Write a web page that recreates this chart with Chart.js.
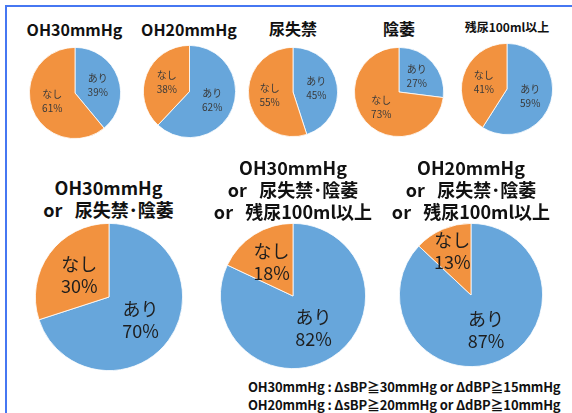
<!DOCTYPE html>
<html>
<head>
<meta charset="utf-8">
<script src="https://cdn.jsdelivr.net/npm/chart.js@4"></script>
<style>
  html, body { margin: 0; padding: 0; background: #fff; }
  #page {
    position: relative; width: 572px; height: 413px; overflow: hidden;
    font-family: "Noto Sans CJK JP", "Noto Sans", sans-serif; color: #111;
  }
  #frame {
    position: absolute; left: 5px; top: 5px; width: 600px; height: 500px;
    border-top: 2px solid #4677f2; border-left: 2px solid #4677f2;
  }
  .pie { position: absolute; }
  .title {
    position: absolute; width: 220px; text-align: center; font-weight: bold;
    white-space: pre;
  }
  .small-title { font-size: 16px; line-height: 20px; }
  .big-title { font-size: 18px; line-height: 22px; }
  #note {
    position: absolute; left: 248px; top: 378px; font-size: 13px; line-height: 18px;
    font-weight: bold; white-space: pre; letter-spacing: -0.15px;
  }
</style>
</head>
<body>
<div id="page">
  <div id="frame"></div>
  <div id="note">OH30mmHg : ΔsBP≧30mmHg or ΔdBP≧15mmHg
OH20mmHg : ΔsBP≧20mmHg or ΔdBP≧10mmHg</div>
</div>
<script>
// categories and values (%)
const categories = ['あり', 'なし'];

const smallTitles = ['OH30mmHg', 'OH20mmHg', '尿失禁', '陰萎', '残尿100ml以上'];
const smallAri = [39, 62, 45, 27, 59];
const smallNashi = [61, 38, 55, 73, 41];

const bigTitles = [
  ['OH30mmHg', 'or   尿失禁･陰萎'],
  ['OH30mmHg', 'or   尿失禁･陰萎', 'or   残尿100ml以上'],
  ['OH20mmHg', 'or   尿失禁･陰萎', 'or   残尿100ml以上']
];
const bigAri = [70, 82, 87];
const bigNashi = [30, 18, 13];

// layout: centre x, centre y, radius, title line y
const smallLayout = [
  { cx: 74.5, cy: 93, r: 46, ty: 29, fs: 16 },
  { cx: 189, cy: 91, r: 46.5, ty: 29, fs: 16 },
  { cx: 293, cy: 92, r: 45, ty: 28, fs: 16 },
  { cx: 399, cy: 92, r: 45, ty: 28, fs: 16 },
  { cx: 507, cy: 89, r: 46, ty: 27, fs: 12 }
];
const bigLayout = [
  { cx: 108.5, cy: 297, r: 74, ty: 187, dist: [0.53, 0.5] },
  { cx: 293, cy: 296, r: 73, ty: 167, dist: [0.53, 0.55] },
  { cx: 471, cy: 295, r: 72, ty: 167, dist: [0.53, 0.66] }
];

const BLUE = '#67a6db';
const ORANGE = '#f2923f';

// writes "label / value%" inside each slice
const sliceLabels = {
  id: 'sliceLabels',
  afterDatasetsDraw(chart, args, opts) {
    const ctx = chart.ctx;
    const meta = chart.getDatasetMeta(0);
    const values = chart.data.datasets[0].data;
    ctx.save();
    ctx.font = opts.size + 'px "Noto Sans CJK JP", sans-serif';
    ctx.fillStyle = opts.color;
    ctx.textAlign = 'center';
    ctx.textBaseline = 'middle';
    meta.data.forEach((arc, i) => {
      const p = arc.getProps(['x', 'y', 'startAngle', 'endAngle', 'outerRadius'], true);
      const mid = (p.startAngle + p.endAngle) / 2;
      const d = p.outerRadius * (opts.dist ? opts.dist[i] : 0.53);
      const x = p.x + Math.cos(mid) * d;
      const y = p.y + Math.sin(mid) * d;
      ctx.fillText(chart.data.labels[i], x, y - opts.gap / 2);
      ctx.fillText(values[i] + '%', x, y + opts.gap / 2);
    });
    ctx.restore();
  }
};

const page = document.getElementById('page');

function addTitle(lines, cx, ty, cls, lh, fs) {
  const t = document.createElement('div');
  t.className = 'title ' + cls;
  t.style.left = (cx - 110) + 'px';
  t.style.top = (ty - lh / 2) + 'px';
  if (fs) t.style.fontSize = fs + 'px';
  t.textContent = lines.join('\n');
  page.appendChild(t);
}

function addPie(cx, cy, r, ari, nashi, labelOpts) {
  const size = Math.round(2 * r + 2);
  const c = document.createElement('canvas');
  c.className = 'pie';
  c.width = size;
  c.height = size;
  c.style.left = Math.round(cx - size / 2) + 'px';
  c.style.top = Math.round(cy - size / 2) + 'px';
  page.appendChild(c);
  new Chart(c.getContext('2d'), {
    type: 'pie',
    data: {
      labels: categories,
      datasets: [{
        data: [ari, nashi],
        backgroundColor: [BLUE, ORANGE],
        borderColor: '#ffffff',
        borderWidth: 0.8
      }]
    },
    options: {
      responsive: false,
      animation: false,
      layout: { padding: 1 },
      plugins: {
        legend: { display: false },
        tooltip: { enabled: false },
        sliceLabels: labelOpts
      }
    },
    plugins: [sliceLabels]
  });
}

smallTitles.forEach((title, i) => {
  const L = smallLayout[i];
  addTitle([title], L.cx, L.ty, 'small-title', 20, L.fs);
  addPie(L.cx, L.cy, L.r, smallAri[i], smallNashi[i], { size: 10, gap: 14, color: '#3a3a3a' });
});

bigTitles.forEach((lines, i) => {
  const L = bigLayout[i];
  addTitle(lines, L.cx, L.ty, 'big-title', 22);
  addPie(L.cx, L.cy, L.r, bigAri[i], bigNashi[i], { size: 18, gap: 22, color: '#1e1e1e', dist: L.dist });
});
</script>
</body>
</html>
